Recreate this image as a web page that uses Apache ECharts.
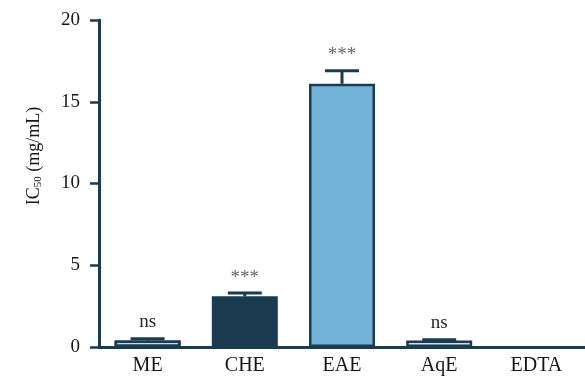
<!DOCTYPE html>
<html>
<head>
<meta charset="utf-8">
<script src="https://cdn.jsdelivr.net/npm/echarts@6/dist/echarts.min.js"></script>
<style>
  html, body { margin: 0; padding: 0; background: #fff; }
  #chart { width: 585px; height: 377px; }
</style>
</head>
<body>
<div id="chart"></div>
<script>
// Extracts and their IC50 values (mg/mL)
const categories = ['ME', 'CHE', 'EAE', 'AqE', 'EDTA'];
const ic50 = [0.4, 3.1, 16.1, 0.4, 0];
const ic50Err = [0.1, 0.2, 0.8, 0.05, 0];
const significance = ['ns', '***', '***', 'ns', ''];
const yTicks = [0, 5, 10, 15, 20];

const AXIS = '#1b3b50';
const TEXT = '#161616';
const barStyles = [
  { color: '#c4dbe8', borderColor: AXIS, borderWidth: 2.5,
    decal: { symbol: 'rect', symbolSize: 0.7, dashArrayX: [[3, 2]], dashArrayY: [1, 2], color: '#ffffff', rotation: 0 } },
  { color: '#1a3b4f', borderColor: AXIS, borderWidth: 2.5 },
  { color: '#74b3d8', borderColor: AXIS, borderWidth: 2.5 },
  { color: '#c9e2f1', borderColor: AXIS, borderWidth: 2.5 },
  { color: '#ffffff', borderColor: AXIS, borderWidth: 0 }
];

const chart = echarts.init(document.getElementById('chart'));
const serif = '"Liberation Serif", "DejaVu Serif", serif';

chart.setOption({
  animation: false,
  grid: { left: 99, top: 20, width: 490, height: 327, containLabel: false },
  xAxis: {
    type: 'category',
    data: categories,
    axisLine: { lineStyle: { color: AXIS, width: 3 } },
    axisTick: { alignWithLabel: true, length: 7, lineStyle: { color: AXIS, width: 2.5 } },
    axisLabel: { color: TEXT, fontFamily: serif, fontSize: 20, margin: 9 }
  },
  yAxis: {
    type: 'value',
    min: 0, max: 20, interval: 5,
    axisLine: { show: true, lineStyle: { color: AXIS, width: 3 } },
    axisTick: { show: true, length: 9, lineStyle: { color: AXIS, width: 2.5 } },
    axisLabel: {
      color: TEXT, fontFamily: serif, fontSize: 19, margin: 19,
      formatter: v => (yTicks.indexOf(v) >= 0 ? String(v) : '')
    },
    splitLine: { show: false }
  },
  graphic: [{
    type: 'text',
    x: 34,
    y: 156,
    rotation: Math.PI / 2,
    style: {
      text: '{a|IC}{s|50}{a| (mg/mL)}',
      align: 'center',
      verticalAlign: 'middle',
      rich: {
        a: { fontFamily: serif, fontSize: 18, fill: TEXT },
        s: { fontFamily: serif, fontSize: 11, fill: TEXT, verticalAlign: 'bottom', padding: [9, 0, 0, 0] }
      }
    }
  }],
  series: [
    {
      type: 'bar',
      barWidth: 66,
      data: ic50.map((v, i) => ({ value: v, itemStyle: barStyles[i] })),
      z: 2
    },
    {
      // error bars with significance marks above the cap
      type: 'custom',
      z: 1,
      data: ic50.map((v, i) => [i, v, ic50Err[i]]),
      renderItem: function (params, api) {
        const idx = api.value(0);
        const v = api.value(1);
        const e = api.value(2);
        const label = significance[params.dataIndex];
        const base = api.coord([idx, v]);
        const top = api.coord([idx, v + e]);
        const children = [];
        if (v > 0 && e > 0) {
          children.push({
            type: 'line',
            shape: { x1: base[0], y1: base[1], x2: top[0], y2: top[1] },
            style: { stroke: AXIS, lineWidth: 3 }
          });
          children.push({
            type: 'line',
            shape: { x1: top[0] - 17, y1: top[1], x2: top[0] + 17, y2: top[1] },
            style: { stroke: AXIS, lineWidth: 3 }
          });
        }
        if (label) {
          const isStar = label.indexOf('*') >= 0;
          children.push({
            type: 'text',
            style: {
              text: label,
              x: top[0],
              y: top[1] - (isStar ? 6 : 7),
              align: 'center',
              verticalAlign: 'bottom',
              fontFamily: serif,
              fontSize: 19,
              fill: isStar ? '#666' : '#2a2a2a'
            }
          });
        }
        return { type: 'group', children: children };
      }
    }
  ]
});
</script>
</body>
</html>
